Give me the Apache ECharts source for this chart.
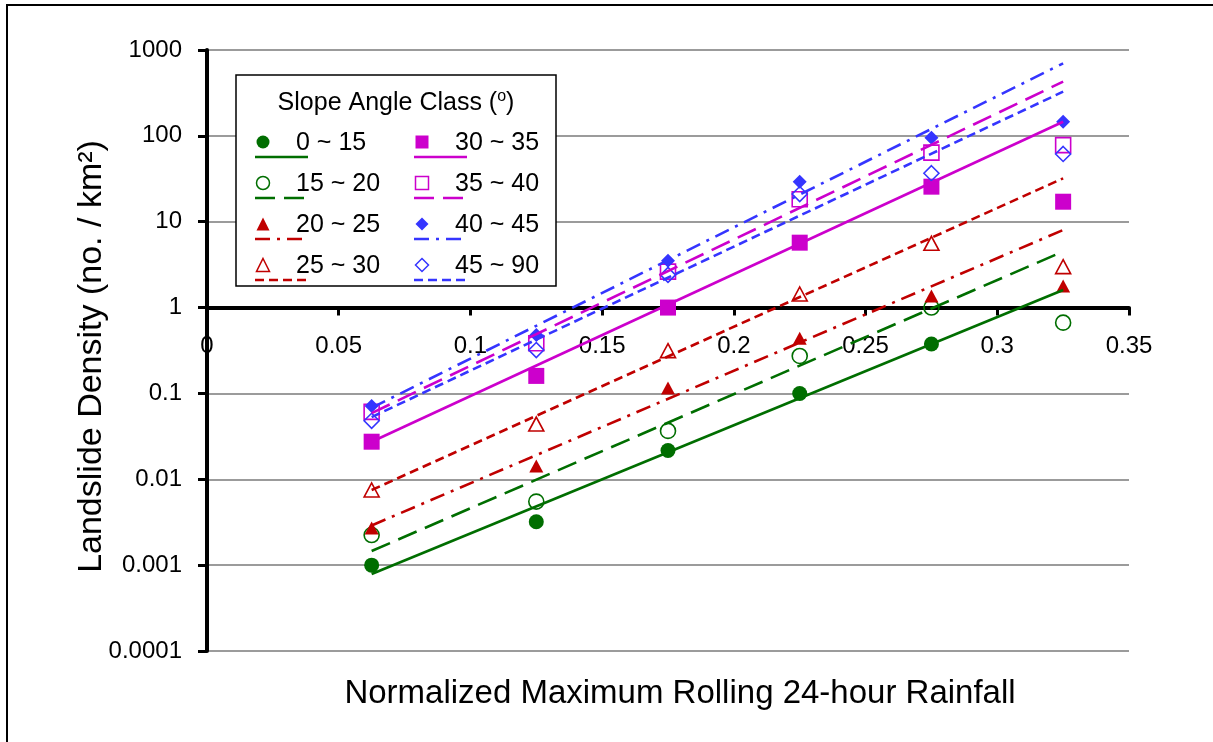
<!DOCTYPE html>
<html>
<head>
<meta charset="utf-8">
<title>Landslide Density vs Rainfall</title>
<script src="https://cdn.jsdelivr.net/npm/echarts@6/dist/echarts.min.js"></script>
<style>
    html, body { margin: 0; padding: 0; background: #ffffff; }
    #chart { width: 1213px; height: 742px; }
</style>
</head>
<body>
<div id="chart"></div>
<script>
    /* data */
    var rainfall = [0.0625, 0.125, 0.175, 0.225, 0.275, 0.325]
    var classNames = ['0 ~ 15', '15 ~ 20', '20 ~ 25', '25 ~ 30', '30 ~ 35', '35 ~ 40', '40 ~ 45', '45 ~ 90']

    var density0to15 = [0.001, 0.0032, 0.0216, 0.1, 0.377, null]
    var density15to20 = [0.00224, 0.0055, 0.0366, 0.273, 1.0, 0.667]
    var density20to25 = [0.0027, 0.0143, 0.116, 0.44, 1.36, 1.78]
    var density25to30 = [0.0075, 0.044, 0.315, 1.44, 5.6, 3.0]
    var density30to35 = [0.0274, 0.16, 1.0, 5.7, 25.6, 17.1]
    var density35to40 = [0.061, 0.384, 2.62, 18.3, 63.7, 78]
    var density40to45 = [0.0714, 0.48, 3.52, 29.3, 95, 146]
    var density45to90 = [0.048, 0.32, 2.4, 21, 36.7, 61.5]

    // exponential trend lines, value at first and last rainfall bin
    var trendStart = [0.00079, 0.00146, 0.0029, 0.0075, 0.0274, 0.059, 0.068, 0.053]
    var trendEnd = [1.6, 4.5, 8.0, 32, 146, 428, 700, 327]

    var xTickLabels = ['0', '0.05', '0.1', '0.15', '0.2', '0.25', '0.3', '0.35']
    var yTickLabels = ['0.0001', '0.001', '0.01', '0.1', '1', '10', '100', '1000']

    var densities = [density0to15, density15to20, density20to25, density25to30,
        density30to35, density35to40, density40to45, density45to90]

    /* styles */
    var FONT = "'Liberation Sans', Arial, sans-serif"
    var GREEN = '#006E00', RED = '#C00000', MAGENTA = '#CC00CC', BLUE = '#3535FF'
    var LONG_DASH = [20, 9], DASH_DOT = [15, 7, 3, 7], SHORT_DASH = [9, 5]
    var classStyles = [
        { color: GREEN, symbol: 'circle', size: 15, filled: true, dash: 'solid' },
        { color: GREEN, symbol: 'circle', size: 15, filled: false, dash: LONG_DASH },
        { color: RED, symbol: 'triangle', size: [14, 13], filled: true, dash: DASH_DOT },
        { color: RED, symbol: 'triangle', size: [15, 14], filled: false, dash: SHORT_DASH },
        { color: MAGENTA, symbol: 'rect', size: 16, filled: true, dash: 'solid' },
        { color: MAGENTA, symbol: 'rect', size: 15, filled: false, dash: LONG_DASH },
        { color: BLUE, symbol: 'diamond', size: 14, filled: true, dash: DASH_DOT },
        { color: BLUE, symbol: 'diamond', size: 15, filled: false, dash: SHORT_DASH }
    ]

    var series = []
    classNames.forEach(function (name, i) {
        var st = classStyles[i]
        var pts = []
        rainfall.forEach(function (x, j) {
            if (densities[i][j] != null) pts.push([x, densities[i][j]])
        })
        series.push({
            name: name,
            type: 'scatter',
            data: pts,
            symbol: st.symbol,
            symbolSize: st.size,
            z: 3,
            itemStyle: st.filled
                ? { color: st.color, opacity: 1 }
                : { color: 'rgba(255,255,255,0)', borderColor: st.color, borderWidth: 1.6, opacity: 1 },
            emphasis: { disabled: true }
        })
        series.push({
            name: name + ' trend',
            type: 'line',
            data: [[rainfall[0], trendStart[i]], [rainfall[rainfall.length - 1], trendEnd[i]]],
            showSymbol: false,
            symbol: 'none',
            z: 4,
            lineStyle: { color: st.color, width: 2.6, type: st.dash },
            emphasis: { disabled: true }
        })
    })

    /* legend drawn the way the spreadsheet draws it: marker above a line sample */
    function markerShape(st, cx, cy, s) {
        var style = { fill: st.filled ? st.color : '#ffffff', stroke: st.color, lineWidth: st.filled ? 0 : 1.5 }
        var h = s / 2
        if (st.symbol === 'circle') return { type: 'circle', shape: { cx: cx, cy: cy, r: h }, style: style }
        if (st.symbol === 'rect') return { type: 'rect', shape: { x: cx - h, y: cy - h, width: s, height: s }, style: style }
        if (st.symbol === 'triangle') return { type: 'polygon', shape: { points: [[cx, cy - h], [cx + h, cy + h], [cx - h, cy + h]] }, style: style }
        return { type: 'polygon', shape: { points: [[cx, cy - h], [cx + h, cy], [cx, cy + h], [cx - h, cy]] }, style: style }
    }

    var legendGraphics = [{
        type: 'rect',
        shape: { x: 236, y: 75, width: 320, height: 211 },
        style: { fill: '#ffffff', stroke: '#000000', lineWidth: 1.5 },
        z: 10
    }, {
        type: 'text',
        x: 396, y: 103, z: 11,
        style: {
            text: '{a|Slope Angle Class (}{s|o}{a|)}',
            align: 'center', verticalAlign: 'middle',
            rich: {
                a: { fontSize: 25, fontFamily: FONT, fill: '#000', lineHeight: 28 },
                s: { fontSize: 16, fontFamily: FONT, fill: '#000', verticalAlign: 'top', lineHeight: 28 }
            }
        }
    }]
    classNames.forEach(function (name, i) {
        var st = classStyles[i]
        var col = Math.floor(i / 4), row = i % 4
        var mx = col ? 422 : 263
        var my = 142 + row * 41
        legendGraphics.push(Object.assign(markerShape(st, mx, my, 13), { z: 11 }))
        legendGraphics.push({
            type: 'line', z: 11,
            shape: { x1: mx - 8, y1: my + 15, x2: mx + 45, y2: my + 15 },
            style: { stroke: st.color, lineWidth: 2.6, lineDash: st.dash === 'solid' ? null : st.dash }
        })
        legendGraphics.push({
            type: 'text', z: 11,
            x: col ? 455 : 296, y: my + 1,
            style: { text: name, fontSize: 25, fontFamily: FONT, fill: '#000', align: 'left', verticalAlign: 'middle' }
        })
    })
    // outer chart frame
    legendGraphics.push({
        type: 'rect',
        shape: { x: 7, y: 5, width: 1220, height: 760 },
        style: { fill: null, stroke: '#000000', lineWidth: 2 },
        z: 12
    })

    var theChart = echarts.init(document.getElementById('chart'))
    var option = {
        backgroundColor: '#ffffff',
        animation: false,
        textStyle: { fontFamily: FONT },
        grid: { left: 207, top: 50, width: 922, height: 601, containLabel: false },
        xAxis: [{
            type: 'value',
            min: 0, max: 0.35, interval: 0.05,
            name: 'Normalized Maximum Rolling 24-hour Rainfall',
            nameLocation: 'middle',
            nameGap: 26,
            nameMoveOverlap: false,
            nameTextStyle: { fontSize: 33, color: '#000', fontFamily: FONT, padding: [0, 0, 0, 24] },
            axisLine: { show: false },
            axisTick: { show: false },
            axisLabel: { show: false },
            splitLine: { show: false }
        }, {
            // x axis crossing at density = 1
            type: 'value',
            position: 'bottom',
            offset: -343.4,
            min: 0, max: 0.35, interval: 0.05,
            axisLine: { show: true, onZero: false, lineStyle: { color: '#000', width: 4 } },
            axisTick: { show: true, inside: false, length: 8, lineStyle: { color: '#000', width: 3 } },
            axisLabel: {
                show: true, margin: 27, fontSize: 24, color: '#000', fontFamily: FONT,
                showMinLabel: true, showMaxLabel: true,
                formatter: function (v) { return xTickLabels[Math.round(v / 0.05)] }
            },
            splitLine: { show: false }
        }],
        yAxis: {
            type: 'log',
            logBase: 10,
            min: 0.0001, max: 1000,
            name: 'Landslide Density (no. / km²)',
            nameLocation: 'middle',
            nameGap: 98,
            nameMoveOverlap: false,
            nameTextStyle: { fontSize: 34, color: '#000', fontFamily: FONT, padding: [0, 12, 0, 0] },
            axisLine: { show: true, lineStyle: { color: '#000', width: 4 } },
            axisTick: { show: true, inside: false, length: 9, lineStyle: { color: '#000', width: 3 } },
            axisLabel: {
                margin: 25, fontSize: 24, color: '#000', fontFamily: FONT,
                formatter: function (v) { return yTickLabels[Math.round(Math.log10(v)) + 4] }
            },
            splitLine: { show: true, lineStyle: { color: '#7a7a7a', width: 1.5 } },
            minorSplitLine: { show: false }
        },
        series: series,
        graphic: legendGraphics
    }
    theChart.setOption(option)
</script>
</body>
</html>
